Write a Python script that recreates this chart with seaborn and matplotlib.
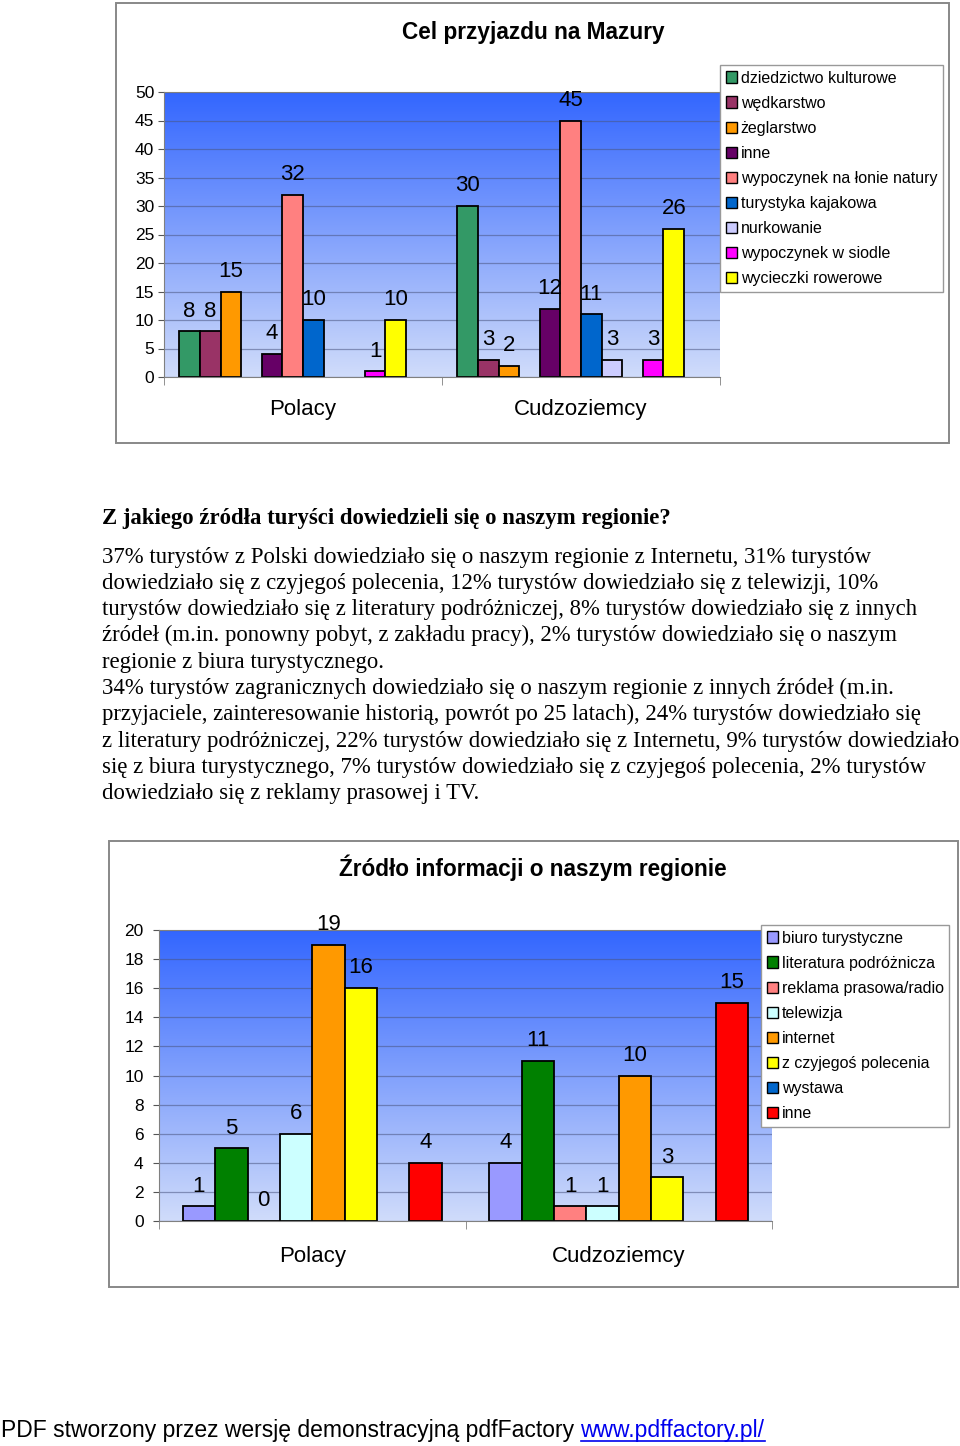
import numpy as np
import pandas as pd
import matplotlib
matplotlib.use('Agg')
import matplotlib.pyplot as plt
from matplotlib.patches import Patch, Rectangle
from matplotlib.lines import Line2D
import seaborn as sns

W, H = 960, 1446

# --- chart 1: Cel przyjazdu na Mazury ---
GRUPY = ['Polacy', 'Cudzoziemcy']
CELE = ['dziedzictwo kulturowe', 'wędkarstwo', 'żeglarstwo', 'inne',
        'wypoczynek na łonie natury', 'turystyka kajakowa', 'nurkowanie',
        'wypoczynek w siodle', 'wycieczki rowerowe']
CELE_POLACY = [8, 8, 15, 4, 32, 10, None, 1, 10]
CELE_CUDZOZIEMCY = [30, 3, 2, 12, 45, 11, 3, 3, 26]
CELE_KOLORY = ['#339966', '#993366', '#FF9900', '#660066', '#FF8080',
               '#0066CC', '#CCCCFF', '#FF00FF', '#FFFF00']
# the source chart has empty series that leave gaps in each cluster
CELE_SLOTY = ['dziedzictwo kulturowe', 'wędkarstwo', 'żeglarstwo', '(puste 1)',
              'inne', 'wypoczynek na łonie natury', 'turystyka kajakowa',
              'nurkowanie', '(puste 2)', 'wypoczynek w siodle', 'wycieczki rowerowe',
              '(puste 3)']

# --- chart 2: Źródło informacji o naszym regionie ---
ZRODLA = ['biuro turystyczne', 'literatura podróżnicza', 'reklama prasowa/radio',
          'telewizja', 'internet', 'z czyjegoś polecenia', 'wystawa', 'inne']
ZRODLA_POLACY = [1, 5, 0, 6, 19, 16, None, 4]
ZRODLA_CUDZOZIEMCY = [4, 11, 1, 1, 10, 3, None, 15]
ZRODLA_KOLORY = ['#9999FF', '#008000', '#FF8080', '#CCFFFF', '#FF9900',
                 '#FFFF00', '#0066CC', '#FF0000']

TYTUL_TEKSTU = 'Z jakiego źródła turyści dowiedzieli się o naszym regionie?'
TEKST = [
    '37% turystów z Polski dowiedziało się o naszym regionie z Internetu, 31% turystów',
    'dowiedziało się z czyjegoś polecenia, 12% turystów dowiedziało się z telewizji, 10%',
    'turystów dowiedziało się z literatury podróżniczej, 8% turystów dowiedziało się z innych',
    'źródeł (m.in. ponowny pobyt, z zakładu pracy), 2% turystów dowiedziało się o naszym',
    'regionie z biura turystycznego.',
    '34% turystów zagranicznych dowiedziało się o naszym regionie z innych źródeł (m.in.',
    'przyjaciele, zainteresowanie historią, powrót po 25 latach), 24% turystów dowiedziało się',
    'z literatury podróżniczej, 22% turystów dowiedziało się z Internetu, 9% turystów dowiedziało',
    'się z biura turystycznego, 7% turystów dowiedziało się z czyjegoś polecenia, 2% turystów',
    'dowiedziało się z reklamy prasowej i TV.',
]
STOPKA = 'PDF stworzony przez wersję demonstracyjną pdfFactory '
LINK = 'www.pdffactory.pl/'

plt.rcParams['font.family'] = ['Liberation Sans', 'DejaVu Sans']


def px_box(x0, y0, x1, y1):
    return [x0 / W, 1 - y1 / H, (x1 - x0) / W, (y1 - y0) / H]


def long_df(names, polacy, cudzoziemcy):
    rows = []
    for g, vals in zip(GRUPY, [polacy, cudzoziemcy]):
        for n, v in zip(names, vals):
            if v is not None:
                rows.append({'grupa': g, 'seria': n, 'wartosc': v})
    return pd.DataFrame(rows)


def gradient(ax):
    x0, x1 = ax.get_xlim()
    y0, y1 = ax.get_ylim()
    top = np.array([51, 102, 255]) / 255
    bottom = np.array([208, 220, 250]) / 255
    t = np.linspace(0, 1, 256)[:, None]
    img = (top * (1 - t) + bottom * t)[:, None, :]
    ax.imshow(img, extent=(x0, x1, y0, y1), aspect='auto', zorder=0)
    ax.set_xlim(x0, x1)
    ax.set_ylim(y0, y1)


def chart(ax, df, order, palette, width, ymax, ystep, ypad, xpad):
    sns.barplot(data=df, x='grupa', y='wartosc', hue='seria', order=GRUPY,
                hue_order=order, palette=palette, width=width, errorbar=None,
                saturation=1, edgecolor='black', linewidth=1.3, legend=False, ax=ax)
    ax.set_xlim(-0.5, 1.5)
    ax.set_ylim(0, ymax)
    gradient(ax)
    ax.set_yticks(np.arange(0, ymax + 1, ystep))
    ax.set_axisbelow(True)
    ax.yaxis.grid(True, color='#4a5580', alpha=0.55, linewidth=0.9)
    ax.xaxis.grid(False)
    for c in ax.containers:
        ax.bar_label(c, labels=[f'{v:g}' for v in c.datavalues],
                     padding=7, fontsize=16)
    ax.set_xlabel('')
    ax.set_ylabel('')
    ax.tick_params(axis='y', labelsize=12.5, length=4, pad=ypad, color='#555555')
    ax.tick_params(axis='x', which='major', labelsize=16, length=0, pad=xpad)
    ax.set_xticks([-0.5, 0.5, 1.5], minor=True)
    ax.tick_params(axis='x', which='minor', length=6, color='#808080')
    for s in ['left', 'bottom', 'top']:
        ax.spines[s].set_color('#808080')
    ax.spines['right'].set_visible(False)


def legend(names, colors, x, y):
    handles = [Patch(facecolor=c, edgecolor='black', linewidth=1.0) for c in colors]
    fig.legend(handles, names, loc='upper left', bbox_to_anchor=(x / W, 1 - y / H),
               borderaxespad=0, fontsize=11.5, handlelength=0.7, handleheight=0.7,
               handletextpad=0.25, labelspacing=0.63, borderpad=0.35,
               fancybox=False, framealpha=1, edgecolor='#999999')


fig = plt.figure(figsize=(W / 100, H / 100), dpi=100)

# frames around the charts
for x0, y0, x1, y1 in [(116, 3, 949, 443), (109, 841, 958, 1287)]:
    fig.patches.append(Rectangle((x0 / W, 1 - y1 / H), (x1 - x0) / W, (y1 - y0) / H,
                                 transform=fig.transFigure, fill=False,
                                 edgecolor='#888888', linewidth=1.4))

ax1 = fig.add_axes(px_box(164, 92, 720, 377))
chart(ax1, long_df(CELE, CELE_POLACY, CELE_CUDZOZIEMCY), CELE_SLOTY,
      dict(zip(CELE, CELE_KOLORY)) | {'(puste 1)': 'white', '(puste 2)': 'white',
                                      '(puste 3)': 'white'},
      0.89, 50, 5, 3, 16)
fig.text(533 / W, 1 - 33 / H, 'Cel przyjazdu na Mazury', ha='center', va='center',
         fontsize=16.3, fontweight='bold')
legend(CELE, CELE_KOLORY, 720, 65)

ax2 = fig.add_axes(px_box(159, 930, 772, 1221))
chart(ax2, long_df(ZRODLA, ZRODLA_POLACY, ZRODLA_CUDZOZIEMCY), ZRODLA,
      dict(zip(ZRODLA, ZRODLA_KOLORY)), 0.845, 20, 2, 7, 18)
fig.text(533 / W, 1 - 868 / H, 'Źródło informacji o naszym regionie', ha='center',
         va='center', fontsize=16.3, fontweight='bold')
legend(ZRODLA, ZRODLA_KOLORY, 761, 925)

serif = ['Liberation Serif', 'DejaVu Serif']
fig.text(102 / W, 1 - 518 / H, TYTUL_TEKSTU, ha='left', va='center',
         fontsize=16.4, fontweight='bold', family=serif)
for i, line in enumerate(TEKST):
    fig.text(102 / W, 1 - (557 + i * 26.3) / H, line, ha='left', va='center',
             fontsize=16.4, family=serif)

# footer with link
t = fig.text(1 / W, 1 - 1431 / H, STOPKA, ha='left', va='center', fontsize=16.5)
r = fig.canvas.get_renderer()
bb = t.get_window_extent(r)
lt = fig.text(bb.x1 / W, 1 - 1431 / H, LINK, ha='left', va='center', fontsize=16.5,
              color='#0000EE')
lb = lt.get_window_extent(r)
fig.add_artist(Line2D([lb.x0 / W, lb.x1 / W], [lb.y0 / H + 0.0012, lb.y0 / H + 0.0012],
                      transform=fig.transFigure, color='#0000EE', linewidth=1.2))

fig.savefig('out.png', dpi=100)
